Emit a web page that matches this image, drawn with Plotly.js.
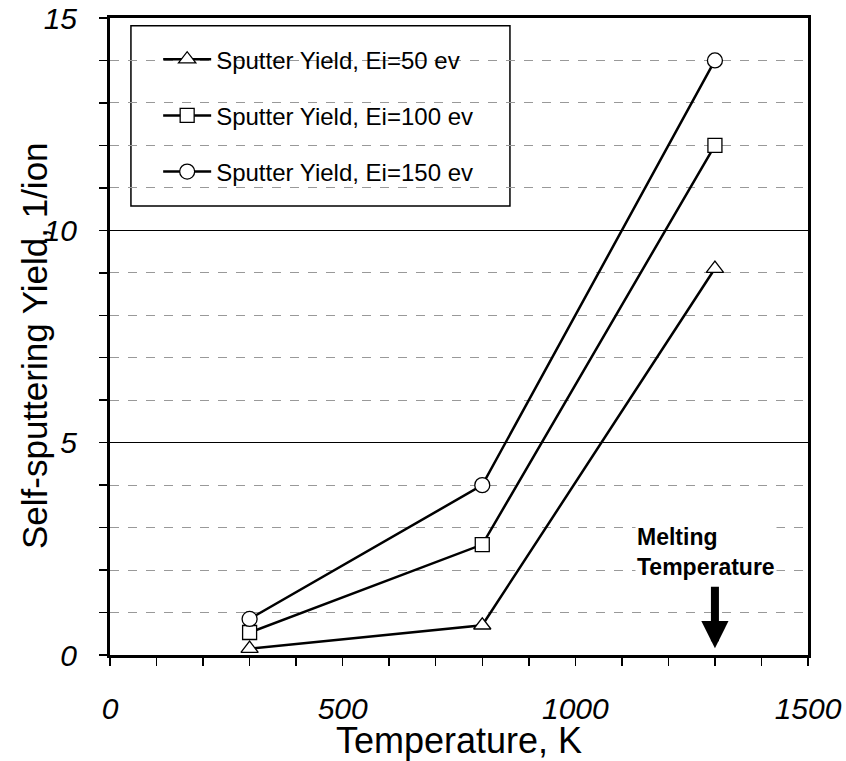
<!DOCTYPE html>
<html>
<head>
<meta charset="utf-8">
<script src="https://cdn.plot.ly/plotly-3.0.1.min.js"></script>
<style>html,body{margin:0;padding:0;background:#fff;}#chart{width:846px;height:761px;}</style>
</head>
<body>
<div id="chart"></div>
<script>
const temps = [300, 800, 1300];
const yield50 = [0.15, 0.7, 9.1];
const yield100 = [0.53, 2.6, 12.0];
const yield150 = [0.85, 4.0, 14.0];
const seriesNames = ["Sputter Yield, Ei=50 ev", "Sputter Yield, Ei=100 ev", "Sputter Yield, Ei=150 ev"];
const xTickVals = [0, 500, 1000, 1500];
const yTickVals = [0, 5, 10, 15];
const meltingTemp = 1300;

const FONT = "Liberation Sans, Arial, sans-serif";
function mk(y, name, sym, size, grp) {
  return {
    x: temps, y: y, name: name, type: "scatter", mode: "lines+markers",
    legendgroup: grp,
    line: {color: "#000", width: 2.5},
    marker: {symbol: sym, size: size, color: "#fff", line: {color: "#000", width: 1.3}},
    cliponaxis: false
  };
}
const data = [
  mk(yield50, seriesNames[0], "triangle-up", 15, "a"),
  mk(yield100, seriesNames[1], "square", 14, "b"),
  mk(yield150, seriesNames[2], "circle", 15, "c")
];

const layout = {
  width: 846, height: 761,
  margin: {l: 110, r: 38, t: 18, b: 106},
  paper_bgcolor: "#fff", plot_bgcolor: "#fff",
  font: {family: FONT, color: "#000"},
  showlegend: true,
  legend: {
    x: 0.069, y: 0.97, xanchor: "left", yanchor: "top",
    bgcolor: "rgba(0,0,0,0)", borderwidth: 0,
    font: {family: FONT, size: 24, color: "#000"},
    tracegroupgap: 22, itemwidth: 48
  },
  xaxis: {
    range: [0, 1500], tickvals: xTickVals, ticks: "outside", ticklen: 8, tickwidth: 1.5, tickcolor: "#000",
    showline: true, linewidth: 3, linecolor: "#000", mirror: true,
    showgrid: false, zeroline: false,
    tickfont: {family: FONT, size: 30, style: "italic", color: "#000"},
    ticklabelstandoff: 17,
    minor: {dtick: 100, ticks: "outside", ticklen: 8, tickwidth: 1.5, tickcolor: "#000", showgrid: false},
    title: {text: "Temperature, K", font: {family: FONT, size: 36, color: "#000"}, standoff: 2}
  },
  yaxis: {
    range: [0, 15], tickvals: yTickVals, ticks: "outside", ticklen: 8, tickwidth: 1.5, tickcolor: "#000",
    showline: true, linewidth: 3, linecolor: "#000", mirror: true,
    showgrid: true, gridcolor: "#000", gridwidth: 1, zeroline: false,
    tickfont: {family: FONT, size: 30, style: "italic", color: "#000"},
    ticklabelstandoff: 16,
    minor: {dtick: 1, ticks: "outside", ticklen: 8, tickwidth: 1.5, tickcolor: "#000",
            showgrid: true, gridcolor: "#999", griddash: "dash", gridwidth: 1}
  },
  shapes: [{
    type: "rect", xref: "paper", yref: "paper", x0: 0.030, x1: 0.573, y0: 0.705, y1: 0.988,
    line: {color: "#000", width: 1.5}, fillcolor: "#fff", layer: "below"
  }],
  annotations: [
    {xref: "paper", yref: "paper", x: 0, y: 0.485, xanchor: "center", yanchor: "middle", xshift: -76,
     text: "Self-sputtering Yield, 1/ion", textangle: -90, showarrow: false,
     font: {family: FONT, size: 35, color: "#000"}},
    {x: 1128, y: 2.43, xref: "x", yref: "y", xanchor: "left", yanchor: "middle",
     text: "<b>Melting<br>Temperature</b>", showarrow: false, bgcolor: "#fff",
     font: {family: FONT, size: 23, color: "#000"}, align: "left"},
    {x: meltingTemp, y: 0.16, xref: "x", yref: "y", ax: 0, ay: -63, axref: "pixel", ayref: "pixel",
     text: "", showarrow: true, arrowhead: 2, arrowsize: 0.68, arrowwidth: 8, arrowcolor: "#000"}
  ]
};
Plotly.newPlot("chart", data, layout, {displayModeBar: false, staticPlot: true});
</script>
</body>
</html>
